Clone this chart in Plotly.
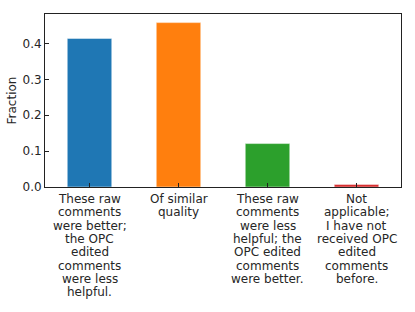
import plotly.graph_objects as go

categories = [
    "These raw<br>comments<br>were better;<br>the OPC<br>edited<br>comments<br>were less<br>helpful.",
    "Of similar<br>quality",
    "These raw<br>comments<br>were less<br>helpful; the<br>OPC edited<br>comments<br>were better.",
    "Not<br>applicable;<br>I have not<br>received OPC<br>edited<br>comments<br>before.",
]
values = [0.414, 0.458, 0.121, 0.0067]
colors = ["#1f77b4", "#ff7f0e", "#2ca02c", "#d62728"]
yticks = [0.0, 0.1, 0.2, 0.3, 0.4]

x = list(range(len(values)))
fig = go.Figure(go.Bar(
    x=x, y=values, width=0.5,
    marker=dict(color=colors, line=dict(color="rgba(255,255,255,0.6)", width=0.8)),
))
font = dict(family="DejaVu Sans", size=12, color="#262626")
fig.update_layout(
    width=415, height=312,
    margin=dict(l=45, r=14, t=14, b=125),
    paper_bgcolor="white", plot_bgcolor="white",
    font=font, showlegend=False,
    xaxis=dict(range=[-0.5, 3.5], tickvals=x, ticktext=[""] * len(x),
               ticks="inside", ticklen=4, tickcolor="#222",
               showline=True, linecolor="#222", linewidth=1, mirror=True,
               showgrid=False, zeroline=False, automargin=False),
    yaxis=dict(range=[0, 0.482], tickvals=yticks, ticktext=["0.0", "0.1", "0.2", "0.3", "0.4"],
               ticks="inside", ticklen=4, tickcolor="#222",
               showline=True, linecolor="#222", linewidth=1, mirror=True,
               showgrid=False, zeroline=False, tickfont=font, automargin=False,
               title=dict(text="Fraction", font=font, standoff=3)),
)
for i, lab in enumerate(categories):
    for k, line in enumerate(lab.split("<br>")):
        fig.add_annotation(x=i, xref="x", y=0, yref="paper", text=line,
                           showarrow=False, yanchor="middle", xanchor="center",
                           yshift=-12 - 13.3 * k, font=font)
fig.write_html("out.html", config={"displayModeBar": False},
               post_script="document.body.style.margin='0';")
